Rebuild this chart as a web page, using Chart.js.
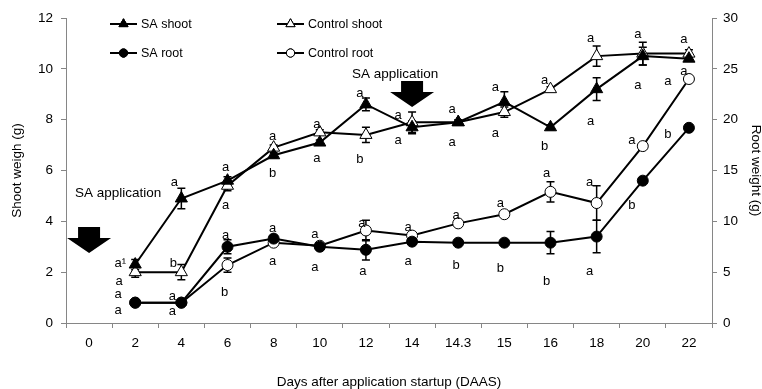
<!DOCTYPE html>
<html>
<head>
<meta charset="utf-8">
<script src="https://cdn.jsdelivr.net/npm/chart.js@4"></script>
<style>
  body { margin: 0; background: #fff; }
</style>
</head>
<body>
<canvas id="myChart" width="762" height="389"></canvas>
<script>
// days after application startup (category axis)
var days = ['0', '2', '4', '6', '8', '10', '12', '14', '14.3', '15', '16', '18', '20', '22'];

// shoot weight (g), left axis
var saShoot   = [null, 2.3, 4.9, 5.6, 6.6, 7.1, 8.6, 7.7, 7.9, 8.7, 7.7, 9.2, 10.5, 10.4];
var ctrlShoot = [null, 2.0, 2.0, 5.4, 6.9, 7.5, 7.4, 7.9, 7.9, 8.3, 9.2, 10.5, 10.6, 10.6];
// root weight (g), right axis
var saRoot    = [null, 2.0, 2.0, 7.5, 8.3, 7.5, 7.2, 8.0, 7.9, 7.9, 7.9, 8.5, 14.0, 19.2];
var ctrlRoot  = [null, 2.0, 2.0, 5.7, 7.9, 7.6, 9.1, 8.6, 9.8, 10.7, 12.9, 11.8, 17.4, 24.0];

// error bars (+/-)
var saShootErr   = [null, 0.2, 0.4, 0.15, 0.1, 0.1, 0.25, 0.25, 0.1, 0.4, 0.1, 0.45, 0.35, 0.1];
var ctrlShootErr = [null, 0.2, 0.3, 0.2, 0.1, 0.1, 0.3, 0.4, 0.05, 0.2, 0.1, 0.4, 0.45, 0.15];
var saRootErr    = [null, 0.1, 0.1, 0.7, 0.3, 0.3, 1.0, 0.2, 0.1, 0.1, 1.1, 1.6, 0.1, 0.1];
var ctrlRootErr  = [null, 0.1, 0.1, 0.7, 0.2, 0.2, 1.0, 0.2, 0.2, 0.2, 1.0, 1.7, 0.2, 0.2];

// significance letters
var saShootLbl   = ['', 'a\u00B9', 'a', 'a', 'b', 'a', 'a', 'a', 'a', 'a', 'b', 'a', 'a', 'a'];
var ctrlShootLbl = ['', 'a', 'b', 'a', 'a', 'a', 'b', 'a', 'a', 'a', 'a', 'a', 'a', 'a'];
var saRootLbl    = ['', 'a', 'a', 'a', 'a', 'a', 'a', 'a', 'b', 'b', 'b', 'a', 'b', 'b'];
var ctrlRootLbl  = ['', 'a', 'a', 'b', 'a', 'a', 'a', 'a', 'a', 'a', 'a', 'a', 'a', 'a'];

// SA application arrows
var arrowDays = ['0', '14'];
var arrowTips = [2.75, 8.5];
var arrowTextLevel = [5.1, 9.8];
var arrowText = 'SA application';

var yTicks = [0, 2, 4, 6, 8, 10, 12];
var y1Ticks = [0, 5, 10, 15, 20, 25, 30];

// letter placement (pixel offsets from the point), style only
var saShootOff   = [null, [-15,-1], [-7,-16], [-2,-13], [-1,18], [-3,16], [-6,-11], [-14,13], [-6,20], [-9,-14], [-6,19], [-6,32], [-5,29], [-21,23]];
var ctrlShootOff = [null, [-16,9], [-8,-9], [-2,20], [-1,-11], [-3,-8], [-6,25], [-14,-7], [-6,-13], [-9,21], [-6,-9], [-6,-18], [-5,-19], [-5,-14]];
var saRootOff    = [null, [-17,-8], [-9,-6], [-2,-11], [-1,-10], [-5,-12], [-3,22], [-4,20], [-2,23], [-4,26], [-4,39], [-7,35], [-11,25], [-21,7]];
var ctrlRootOff  = [null, [-17,8], [-9,9], [-3,27], [-1,19], [-5,22], [-4,-7], [-4,-8], [-2,-8], [-4,-11], [-4,-18], [-7,-21], [-11,-6], [-5,-8]];

var FONT = 'Liberation Sans, Arial, sans-serif';
var AXIS_GREY = '#868686';

var errs = [saShootErr, ctrlShootErr, saRootErr, ctrlRootErr];
var lbls = [saShootLbl, ctrlShootLbl, saRootLbl, ctrlRootLbl];
var offs = [saShootOff, ctrlShootOff, saRootOff, ctrlRootOff];

function drawMarker(ctx, style, fill, x, y, r) {
    Chart.helpers.drawPoint(ctx, {pointStyle: style, radius: r, borderWidth: 1}, x, y);
    ctx.fillStyle = fill;
    ctx.fill();
    ctx.stroke();
}

var extras = {
    id: 'extras',
    beforeDatasetsDraw: function(chart) {
        var ctx = chart.ctx;
        ctx.save();
        ctx.strokeStyle = '#000';
        ctx.lineWidth = 1.5;
        chart.data.datasets.forEach(function(ds, di) {
            var meta = chart.getDatasetMeta(di);
            var ys = chart.scales[ds.yAxisID];
            ds.data.forEach(function(v, i) {
                if (v === null) return;
                var x = meta.data[i].x;
                var top = ys.getPixelForValue(v + errs[di][i]);
                var bot = ys.getPixelForValue(v - errs[di][i]);
                ctx.beginPath();
                ctx.moveTo(x, top); ctx.lineTo(x, bot);
                ctx.moveTo(x - 4, top); ctx.lineTo(x + 4, top);
                ctx.moveTo(x - 4, bot); ctx.lineTo(x + 4, bot);
                ctx.stroke();
            });
        });
        ctx.restore();
    },
    afterDraw: function(chart) {
        var ctx = chart.ctx;
        var xs = chart.scales.x, ys = chart.scales.y;
        ctx.save();
        ctx.fillStyle = '#000';

        // letters
        ctx.font = '13px ' + FONT;
        ctx.textAlign = 'center';
        ctx.textBaseline = 'middle';
        chart.data.datasets.forEach(function(ds, di) {
            var meta = chart.getDatasetMeta(di);
            ds.data.forEach(function(v, i) {
                if (v === null || !lbls[di][i]) return;
                var p = meta.data[i];
                ctx.fillText(lbls[di][i], p.x + offs[di][i][0], p.y + offs[di][i][1]);
            });
        });

        // arrows
        var textDx = [29, -17];
        ctx.font = '13.5px ' + FONT;
        arrowDays.forEach(function(d, k) {
            var x = xs.getPixelForValue(xs.getLabels().indexOf(d));
            var tip = ys.getPixelForValue(arrowTips[k]);
            ctx.beginPath();
            ctx.moveTo(x, tip);
            ctx.lineTo(x - 22, tip - 15);
            ctx.lineTo(x - 11, tip - 15);
            ctx.lineTo(x - 11, tip - 26);
            ctx.lineTo(x + 11, tip - 26);
            ctx.lineTo(x + 11, tip - 15);
            ctx.lineTo(x + 22, tip - 15);
            ctx.closePath();
            ctx.fill();
            ctx.fillText(arrowText, x + textDx[k], ys.getPixelForValue(arrowTextLevel[k]));
        });

        // legend
        var ca = chart.chartArea;
        var cols = [ca.left + 44, ca.left + 211];
        var rows = [ca.top + 6, ca.top + 35];
        var items = [[0, 0, 0], [1, 1, 0], [2, 0, 1], [3, 1, 1]];
        ctx.font = '12.5px ' + FONT;
        ctx.textAlign = 'left';
        items.forEach(function(it) {
            var ds = chart.data.datasets[it[0]];
            var lx = cols[it[1]], ly = rows[it[2]];
            ctx.strokeStyle = '#000';
            ctx.lineWidth = 2;
            ctx.beginPath();
            ctx.moveTo(lx, ly); ctx.lineTo(lx + 27, ly);
            ctx.stroke();
            ctx.lineWidth = 1;
            drawMarker(ctx, ds.pointStyle, ds.pointBackgroundColor, lx + 13.5, ly, ds.pointRadius * 0.75);
            ctx.fillStyle = '#000';
            ctx.fillText(ds.label, lx + 31, ly + 1);
        });
        ctx.restore();
    }
};

function series(label, data, style, fill, axis, r) {
    return {
        label: label,
        data: data,
        yAxisID: axis,
        borderColor: '#000',
        borderWidth: 2,
        pointStyle: style,
        pointRadius: r,
        pointHoverRadius: r,
        pointBackgroundColor: fill,
        pointBorderColor: '#000',
        pointBorderWidth: 1,
        tension: 0,
        fill: false
    };
}

var tickFont = {family: FONT, size: 13.5};
var titleFont = {family: FONT, size: 13.5, lineHeight: 1};

new Chart('myChart', {
    type: 'line',
    data: {
        labels: days,
        datasets: [
            series('SA shoot', saShoot, 'triangle', '#000', 'y', 7),
            series('Control shoot', ctrlShoot, 'triangle', '#fff', 'y', 7),
            series('SA root', saRoot, 'circle', '#000', 'y1', 5.5),
            series('Control root', ctrlRoot, 'circle', '#fff', 'y1', 5.5)
        ]
    },
    options: {
        responsive: false,
        animation: false,
        layout: {padding: {top: 18, left: 0, right: 0, bottom: 0}},
        plugins: {legend: {display: false}, tooltip: {enabled: false}},
        scales: {
            x: {
                type: 'category',
                offset: true,
                grid: {offset: true, drawOnChartArea: false, drawTicks: true, tickLength: 5, color: AXIS_GREY},
                border: {color: AXIS_GREY, width: 1},
                ticks: {font: tickFont, color: '#000', padding: 7, maxRotation: 0, autoSkip: false},
                title: {display: true, text: 'Days after application startup (DAAS)', font: titleFont, color: '#000', padding: {top: 0, bottom: 0}},
                afterFit: function(s) { s.height = 66; }
            },
            y: {
                position: 'left',
                min: 0, max: 12,
                afterBuildTicks: function(s) { s.ticks = yTicks.map(function(v) { return {value: v}; }); },
                grid: {drawOnChartArea: false, drawTicks: true, tickLength: 5, color: AXIS_GREY},
                border: {color: AXIS_GREY, width: 1},
                ticks: {font: tickFont, color: '#000', padding: 8},
                title: {display: true, text: 'Shoot weigh (g)', font: titleFont, color: '#000', padding: {top: 11, bottom: 0}},
                afterFit: function(s) { s.width = 66; }
            },
            y1: {
                position: 'right',
                min: 0, max: 30,
                afterBuildTicks: function(s) { s.ticks = y1Ticks.map(function(v) { return {value: v}; }); },
                grid: {drawOnChartArea: false, drawTicks: true, tickLength: 5, color: AXIS_GREY},
                border: {color: AXIS_GREY, width: 1},
                ticks: {font: tickFont, color: '#000', padding: 6},
                title: {display: true, text: 'Root weight (g)', font: titleFont, color: '#000', padding: {top: 0, bottom: 0}},
                afterFit: function(s) { s.width = 50; }
            }
        }
    },
    plugins: [extras]
});
</script>
</body>
</html>
